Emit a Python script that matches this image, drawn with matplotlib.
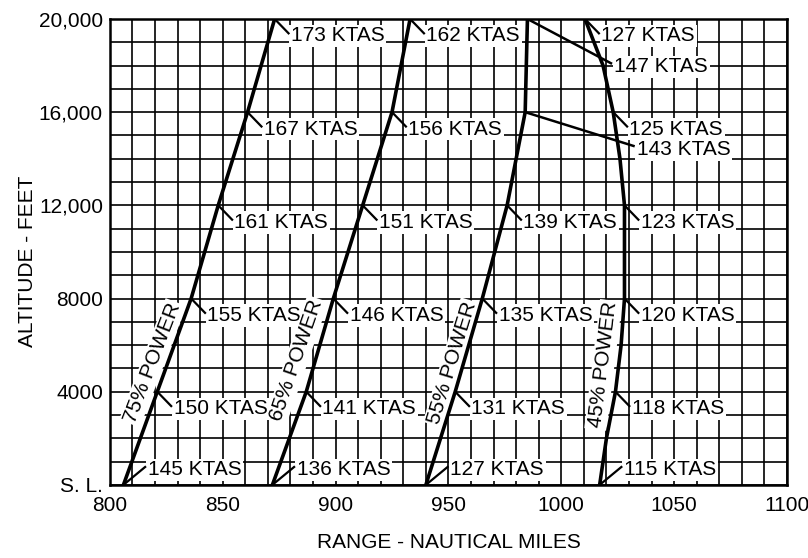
import matplotlib
matplotlib.use('Agg')
import matplotlib.pyplot as plt

plt.rcParams['font.family'] = ['Liberation Sans', 'DejaVu Sans']

# altitude points where speeds are marked
alts = [0, 4000, 8000, 12000, 16000, 20000]

# 75% power
range_75 = [806, 821, 836, 848, 861, 873]
ktas_75 = [145, 150, 155, 161, 167, 173]

# 65% power
range_65 = [872, 887, 899, 912, 925, 933]
ktas_65 = [136, 141, 146, 151, 156, 162]

# 55% power
range_55 = [940, 953, 965, 976, 984, 985]
ktas_55 = [127, 131, 135, 139, None, None]

# 45% power (curve bends back at top)
alts_45 = [0, 2000, 4000, 6000, 8000, 10000, 12000, 14000, 16000, 18000, 20000]
range_45 = [1017, 1020, 1024, 1026.5, 1028, 1028, 1028, 1026, 1023, 1018.5, 1010.5]
ktas_45 = {0: 115, 4000: 118, 8000: 120, 12000: 123, 16000: 125, 20000: 127}

# full throttle lines from the 55% curve
throttle_lines = [
    ([985, 1022], [20000, 18100], 147),
    ([984, 1032], [16000, 14550], 143),
]

xticks = [800, 850, 900, 950, 1000, 1050, 1100]
yticks = [0, 4000, 8000, 12000, 16000, 20000]
ytick_labels = ['S. L.', '4000', '8000', '12,000', '16,000', '20,000']

fig = plt.figure(figsize=(8.08, 5.58), dpi=100)
ax = fig.add_axes([0.136, 0.131, 0.838, 0.835])

box = dict(boxstyle='square,pad=0.08', facecolor='white', edgecolor='none')
fs = 15


def mark(x, y, kt):
    # leader tick and speed label
    if y == 0:
        ax.plot([x, x + 10], [y, y + 800], color='black', lw=1.6, zorder=4,
                solid_capstyle='butt')
        ax.text(x + 10.8, y + 650, '%d KTAS' % kt, fontsize=fs, ha='left',
                va='center', bbox=box, zorder=3)
    else:
        ax.plot([x, x + 6.5], [y, y - 650], color='black', lw=1.6, zorder=4,
                solid_capstyle='butt')
        ax.text(x + 7.2, y - 730, '%d KTAS' % kt, fontsize=fs, ha='left',
                va='center', bbox=box, zorder=3)


for rng, kts in [(range_75, ktas_75), (range_65, ktas_65), (range_55, ktas_55)]:
    ax.plot(rng, alts, color='black', lw=2.6, zorder=5)
    for x, y, k in zip(rng, alts, kts):
        if k is not None:
            mark(x, y, k)

ax.plot(range_45, alts_45, color='black', lw=2.6, zorder=5)
for x, y in zip(range_45, alts_45):
    if y in ktas_45:
        mark(x, y, ktas_45[y])

for xs, ys, k in throttle_lines:
    ax.plot(xs, ys, color='black', lw=1.8, zorder=4)
    ax.text(xs[1] + 1.5, ys[1] - 150, '%d KTAS' % k, fontsize=fs, ha='left',
            va='center', bbox=box, zorder=3)

# power labels along curves
power_labels = [('75% POWER', 819.0, 5240, 69),
                ('65% POWER', 882.8, 5360, 71),
                ('55% POWER', 951.8, 5240, 73),
                ('45% POWER', 1018.6, 5150, 83)]
for txt, x, y, rot in power_labels:
    ax.text(x, y, txt, fontsize=fs, rotation=rot, ha='center', va='center',
            rotation_mode='anchor', bbox=box, zorder=3)

ax.set_xlim(800, 1100)
ax.set_ylim(0, 20000)
ax.set_xticks(xticks)
ax.set_xticks(range(800, 1101, 10), minor=True)
ax.set_yticks(yticks)
ax.set_yticklabels(ytick_labels)
ax.set_yticks(range(0, 20001, 1000), minor=True)
ax.grid(True, which='both', color='black', lw=1.2)
ax.set_axisbelow(True)
ax.tick_params(which='both', length=0, labelsize=fs)
ax.tick_params(axis='x', pad=8)
ax.tick_params(axis='y', pad=5)
for s in ax.spines.values():
    s.set_linewidth(1.8)

ax.set_xlabel('RANGE - NAUTICAL MILES', fontsize=fs, labelpad=13)
ax.set_ylabel('ALTITUDE - FEET', fontsize=fs)
ax.yaxis.set_label_coords(-0.108, 0.48)

fig.savefig('out.png', dpi=100)
